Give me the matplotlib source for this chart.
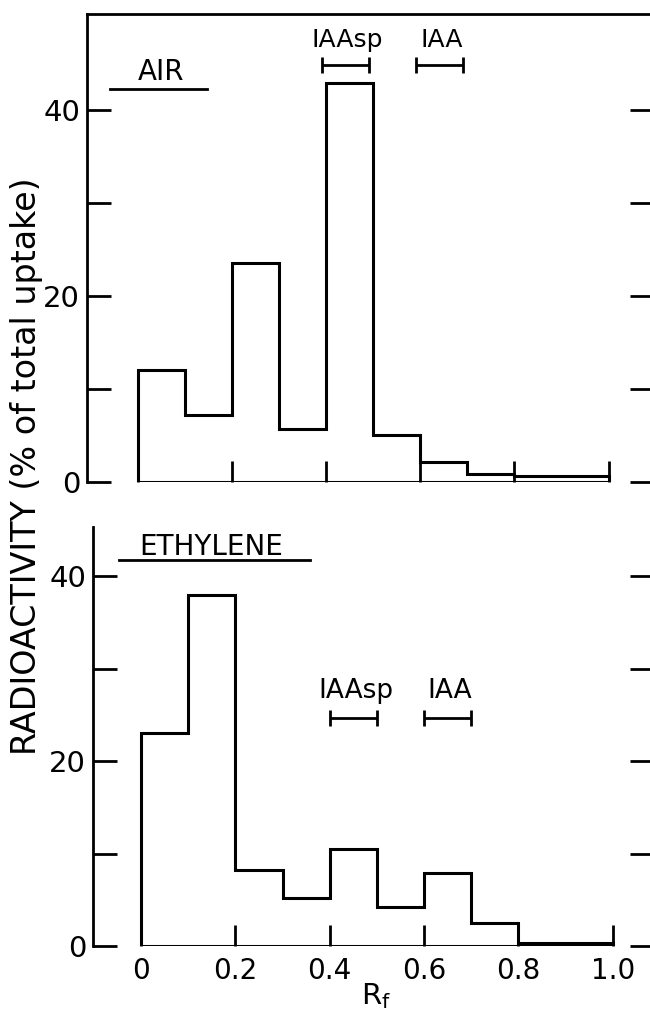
import numpy as np
import matplotlib
matplotlib.use("Agg")
import matplotlib.pyplot as plt

# Rf bin edges and radioactivity (% of total uptake) per bin
edges = [0.0, 0.1, 0.2, 0.3, 0.4, 0.5, 0.6, 0.7, 0.8, 0.9, 1.0]
air = [12.0, 7.2, 23.5, 5.7, 42.9, 5.1, 2.2, 0.9, 0.6, 0.6]
ethylene = [23.0, 37.9, 8.2, 5.2, 10.5, 4.2, 7.9, 2.5, 0.3, 0.3]

yticks = [0, 10, 20, 30, 40]
ytick_labels = ["0", "", "20", "", "40"]
xticks = [0, 0.2, 0.4, 0.6, 0.8, 1.0]
xtick_labels = ["0", "0.2", "0.4", "0.6", "0.8", "1.0"]

# marker bars: (label, start, end)
markers = [("IAAsp", 0.39, 0.49), ("IAA", 0.59, 0.69)]
markers_eth = [("IAAsp", 0.40, 0.50), ("IAA", 0.60, 0.70)]

plt.rcParams["font.family"] = ["DejaVu Sans"]
W, H = 650, 1010
fig = plt.figure(figsize=(W / 100, H / 100), dpi=100)


def make_axes(left_px, zero_x_px, px_per_unit, bottom_px, top_px, px_per_y):
    right_px = 654
    ax = fig.add_axes([left_px / W, (H - bottom_px) / H,
                       (right_px - left_px) / W, (bottom_px - top_px) / H])
    ax.set_xlim((left_px - zero_x_px) / px_per_unit, (right_px - zero_x_px) / px_per_unit)
    ax.set_ylim(0, (bottom_px - top_px) / px_per_y)
    for s in ["bottom", "right", "top"]:
        ax.spines[s].set_visible(False)
    ax.spines["left"].set_linewidth(2)
    ax.set_yticks(yticks)
    ax.set_yticklabels(ytick_labels)
    ax.tick_params(axis="y", direction="in", length=17, width=2, left=True, right=True,
                   labelsize=21, pad=5)
    ax.set_xticks(xticks)
    ax.tick_params(axis="x", direction="in", length=15, width=2, labelsize=20, pad=8)
    ax.set_facecolor("none")
    return ax


def draw_hist(ax, vals):
    x = np.repeat(edges, 2)
    y = np.concatenate([[0], np.repeat(vals, 2), [0]])
    x = np.append(x, edges[0])
    y = np.append(y, 0)
    ax.plot(x, y, color="black", lw=2.2, solid_joinstyle="miter")


def draw_marker(ax, name, x0, x1, ybar, ytext, size):
    ax.errorbar((x0 + x1) / 2, ybar, xerr=(x1 - x0) / 2, color="black",
                elinewidth=2, capsize=6, capthick=2, fmt="none")
    ax.text((x0 + x1) / 2 + 0.005, ytext, name, ha="center", va="baseline", fontsize=size)


# top panel: AIR
ax1 = make_axes(87, 138, 470.6, 482, 14, 9.3)
ax1.spines["top"].set_visible(True)
ax1.spines["top"].set_linewidth(2)
ax1.set_xticklabels([])
draw_hist(ax1, air)
ax1.text(0.05, 43.2, "AIR", ha="center", va="baseline", fontsize=20)
ax1.plot([-0.06, 0.147], [42.3, 42.3], color="black", lw=2)
for name, a, b in markers:
    draw_marker(ax1, name, a, b, 44.8, 46.8, 18)

# bottom panel: ETHYLENE
ax2 = make_axes(93, 141, 471.8, 946, 527, 9.25)
ax2.set_xticklabels(xtick_labels)
draw_hist(ax2, ethylene)
ax2.text(0.149, 42.3, "ETHYLENE", ha="center", va="baseline", fontsize=20)
ax2.plot([-0.047, 0.358], [41.7, 41.7], color="black", lw=2)
for name, a, b in markers_eth:
    draw_marker(ax2, name, a, b, 24.6, 26.8, 19)

fig.text(27 / W, 1 - 466 / H, "RADIOACTIVITY (% of total uptake)", rotation=90,
         ha="center", va="center", fontsize=24)
fig.text(376 / W, 1 - 1004 / H, r"R$_\mathregular{f}$", ha="center", va="baseline", fontsize=21)

fig.savefig("out.png", dpi=100)
